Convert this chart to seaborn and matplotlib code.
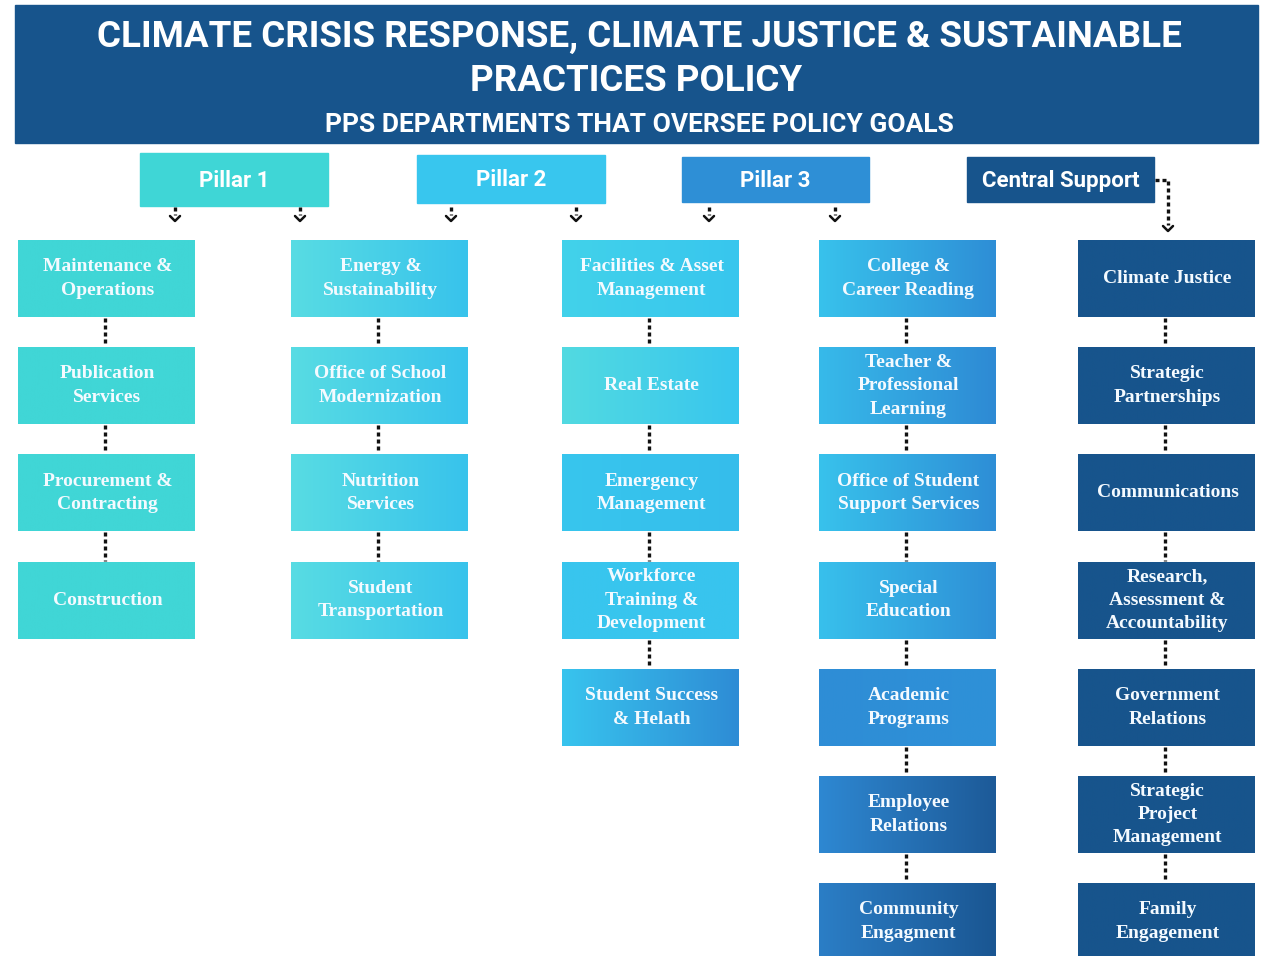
import numpy as np
import matplotlib.pyplot as plt
import seaborn as sns

sns.set_theme(style="white")

# chart content
title_lines = ["CLIMATE CRISIS RESPONSE, CLIMATE JUSTICE & SUSTAINABLE", "PRACTICES POLICY"]
subtitle = "PPS DEPARTMENTS THAT OVERSEE POLICY GOALS"
pillars = ["Pillar 1", "Pillar 2", "Pillar 3", "Central Support"]

pillar1 = ["Maintenance &\nOperations", "Publication\nServices", "Procurement &\nContracting", "Construction"]
pillar1b = ["Energy &\nSustainability", "Office of School\nModernization", "Nutrition\nServices",
            "Student\nTransportation"]
pillar2 = ["Facilities & Asset\nManagement", "Real Estate", "Emergency\nManagement",
           "Workforce\nTraining &\nDevelopment", "Student Success\n& Helath"]
pillar3 = ["College &\nCareer Reading", "Teacher &\nProfessional\nLearning", "Office of Student\nSupport Services",
           "Special\nEducation", "Academic\nPrograms", "Employee\nRelations", "Community\nEngagment"]
central = ["Climate Justice", "Strategic\nPartnerships", "Communications",
           "Research,\nAssessment &\nAccountability", "Government\nRelations",
           "Strategic\nProject\nManagement", "Family\nEngagement"]
columns = [pillar1, pillar1b, pillar2, pillar3, central]

# styles
navy = "#17548C"
pillar_colors = ["#3FD6D6", "#38C6EE", "#2E8FD6", navy]
col_colors = [
    [("#40D6D6", "#40D6D6")] * 4,
    [("#58DCE3", "#38C3EC")] * 4,
    [("#42D2EA", "#38C6EE"), ("#52DAE1", "#38C6EE"), ("#38C6EE", "#35BDEB"),
     ("#38C6EE", "#38C4EE"), ("#38C4EE", "#2E8CD5")],
    [("#38C2EC", "#2E8ED6"), ("#37BAEA", "#2E8AD4"), ("#38C2EC", "#2E8ED6"), ("#38C0EC", "#2E8FD6"),
     ("#2E8DD6", "#2E91D8"), ("#2E88D2", "#1D5A98"), ("#2B7EC6", "#1A5692")],
    [(navy, navy)] * 7,
]

fig = plt.figure(figsize=(12.66, 9.56), dpi=100)
ax = fig.add_axes([0, 0, 1, 1])

# header band
ax.add_patch(plt.Rectangle((15, 5), 1243, 138, color=navy, zorder=1))
ax.text(639, 37, title_lines[0], ha="center", va="center", color="white",
        fontsize=26.5, fontweight="bold", family="Roboto", zorder=3)
ax.text(636, 81, title_lines[1], ha="center", va="center", color="white",
        fontsize=26.5, fontweight="bold", family="Roboto", zorder=3)
ax.text(639, 125, subtitle, ha="center", va="center", color="white",
        fontsize=19, fontweight="bold", family="Roboto", zorder=3)

# pillar headers
pillar_boxes = [(140, 153, 188, 53), (417, 155, 188, 48), (682, 157, 187, 45), (967, 157, 187, 45)]
for name, (x, y, w, h), c in zip(pillars, pillar_boxes, pillar_colors):
    ax.add_patch(plt.Rectangle((x, y), w, h, color=c, zorder=1))
    ax.text(x + w / 2, y + h / 2 + 1, name, ha="center", va="center", color="white",
            fontsize=16, fontweight="bold", family="Roboto", zorder=3)

dot = dict(color="#111111", lw=2.4, linestyle=(0, (1.2, 0.9)), solid_capstyle="butt", zorder=2)


def arrow(x, y0, y1):
    ax.plot([x, x], [y0, y1], **dot)
    ax.plot([x - 5, x, x + 5], [y1 + 1, y1 + 6, y1 + 1], color="#111111", lw=1.8, zorder=2)


for x in [175, 300, 451, 576, 709, 835]:
    arrow(x, 207, 215)
ax.plot([1155, 1168, 1168], [180, 180, 225], **dot)
ax.plot([1163, 1168, 1173], [226, 231, 226], color="#111111", lw=1.8, zorder=2)

# department boxes
col_x = [18, 291, 562, 819, 1078]
bw, bh = 177, 77
row_top = 240
row_step = 107.2
for labels, x0, colors in zip(columns, col_x, col_colors):
    for i, (lab, (cl, cr)) in enumerate(zip(labels, colors)):
        y0 = row_top + i * row_step
        cmap = sns.blend_palette([cl, cr], as_cmap=True)
        ax.imshow(np.linspace(0, 1, 256)[None, :], cmap=cmap, aspect="auto",
                  extent=(x0, x0 + bw, y0 + bh, y0), zorder=1)
        ax.text(x0 + bw / 2 + 1, y0 + bh / 2, lab, ha="center", va="center", color="#F4FAFF",
                fontsize=14, fontweight="bold", family="Liberation Serif", linespacing=1.5, zorder=3)
        if i < len(labels) - 1:
            cx = x0 + bw / 2 - 2
            ax.plot([cx, cx], [y0 + bh + 1, y0 + row_step - 1], **dot)

ax.set_xlim(0, 1266)
ax.set_ylim(956, 0)
ax.axis("off")
fig.savefig("out.png", dpi=100, facecolor="white")
